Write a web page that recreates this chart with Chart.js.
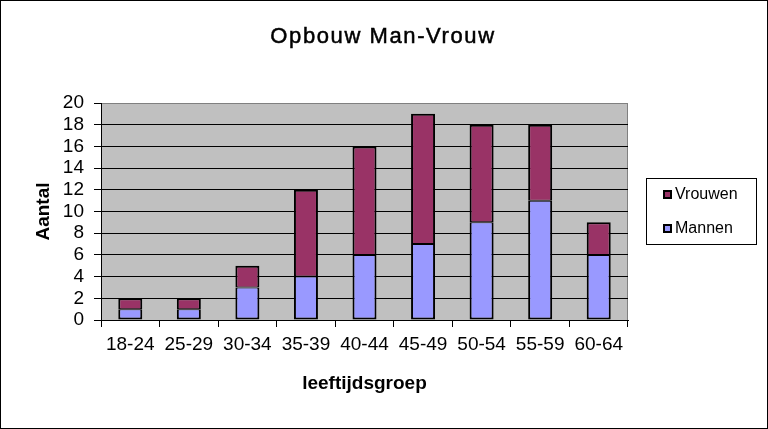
<!DOCTYPE html>
<html>
<head>
<meta charset="utf-8">
<script src="https://cdn.jsdelivr.net/npm/chart.js@4/dist/chart.umd.min.js"></script>
<style>
  html, body { margin: 0; padding: 0; background: #fff; }
  #wrap { width: 768px; height: 429px; }
</style>
</head>
<body>
<div id="wrap"><canvas id="ageChart" width="768" height="429"></canvas></div>
<script>
const chartTitle = 'Opbouw Man-Vrouw';
const ageGroups = ['18-24', '25-29', '30-34', '35-39', '40-44', '45-49', '50-54', '55-59', '60-64'];
const mannen = [1, 1, 3, 4, 6, 7, 9, 11, 6];
const vrouwen = [1, 1, 2, 8, 10, 12, 9, 7, 3];

const font = 'Arial, "Liberation Sans", sans-serif';

// grey plot area, outer frame, title and boxed legend (Excel look)
const excelLook = {
    id: 'excelLook',
    beforeDraw(chart) {
        const c = chart.ctx;
        const a = chart.chartArea;
        c.save();
        c.fillStyle = '#fff';
        c.fillRect(0, 0, chart.width, chart.height);
        c.fillStyle = '#C0C0C0';
        c.fillRect(a.left, a.top, a.right - a.left, a.bottom - a.top);
        c.strokeStyle = '#808080';
        c.lineWidth = 1;
        c.strokeRect(a.left + 0.5, a.top + 0.5, a.right - a.left - 1, a.bottom - a.top);
        c.restore();
    },
    afterDraw(chart) {
        const c = chart.ctx;
        c.save();
        c.strokeStyle = '#000';
        c.lineWidth = 1;
        c.strokeRect(0.5, 0.5, chart.width - 1, chart.height - 1);

        c.fillStyle = '#000';
        c.font = '22px ' + font;
        c.letterSpacing = '1.6px';
        c.textAlign = 'center';
        c.textBaseline = 'alphabetic';
        c.fillText(chartTitle, 383, 43);
        c.strokeStyle = '#000';
        c.lineWidth = 0.5;
        c.strokeText(chartTitle, 383, 43);
        c.letterSpacing = '0px';

        // legend
        c.lineWidth = 1;
        c.fillStyle = '#fff';
        c.fillRect(646, 178, 111, 67);
        c.strokeRect(646.5, 178.5, 110, 66);
        const items = chart.data.datasets.slice().reverse();
        c.font = '16px ' + font;
        c.textAlign = 'left';
        c.textBaseline = 'middle';
        items.forEach((ds, i) => {
            const y = 195 + i * 34;
            c.fillStyle = '#000';
            c.fillRect(663, y - 5, 9, 9);
            c.fillStyle = ds.backgroundColor;
            c.fillRect(665, y - 3, 5, 5);
            c.fillStyle = '#000';
            c.fillText(ds.label, 675, y);
        });
        c.restore();
    }
};

new Chart(document.getElementById('ageChart').getContext('2d'), {
    type: 'bar',
    data: {
        labels: ageGroups,
        datasets: [{
            label: 'Mannen',
            data: mannen,
            backgroundColor: '#9999FF',
            borderColor: '#000',
            borderWidth: { top: 1, left: 2, right: 2, bottom: 2 },
            borderSkipped: false
        }, {
            label: 'Vrouwen',
            data: vrouwen,
            backgroundColor: '#993366',
            borderColor: '#000',
            borderWidth: { top: 2, left: 2, right: 2, bottom: 1 },
            borderSkipped: false
        }]
    },
    options: {
        responsive: false,
        animation: false,
        devicePixelRatio: 1,
        layout: { padding: { top: 103, right: 140, left: 0, bottom: 0 } },
        datasets: { bar: { categoryPercentage: 1, barPercentage: 0.41 } },
        plugins: {
            legend: { display: false },
            tooltip: { enabled: false }
        },
        scales: {
            x: {
                stacked: true,
                afterFit(s) { s.height = 109; },
                border: { color: '#000', width: 1 },
                grid: { offset: true, drawOnChartArea: false, drawTicks: true, tickLength: 7, color: '#000' },
                ticks: { color: '#000', padding: 6, maxRotation: 0, autoSkip: false, font: { family: font, size: 19 } },
                title: {
                    display: true, text: 'leeftijdsgroep', color: '#000',
                    font: { family: font, size: 19, weight: 'bold' },
                    padding: { top: 0, bottom: 34 }
                }
            },
            y: {
                stacked: true,
                min: 0,
                max: 20,
                afterFit(s) { s.width = 101; },
                border: { color: '#000', width: 1 },
                grid: {
                    color: ctx => ctx.tick && ctx.tick.value === 20 ? '#808080' : '#000',
                    tickLength: 7,
                    tickColor: '#000'
                },
                ticks: { stepSize: 2, autoSkip: false, color: '#000', padding: 10, font: { family: font, size: 19 } },
                title: {
                    display: true, text: 'Aantal', color: '#000',
                    font: { family: font, size: 19, weight: 'bold' },
                    padding: { top: 32, bottom: 0 }
                }
            }
        }
    },
    plugins: [excelLook]
});
</script>
</body>
</html>
